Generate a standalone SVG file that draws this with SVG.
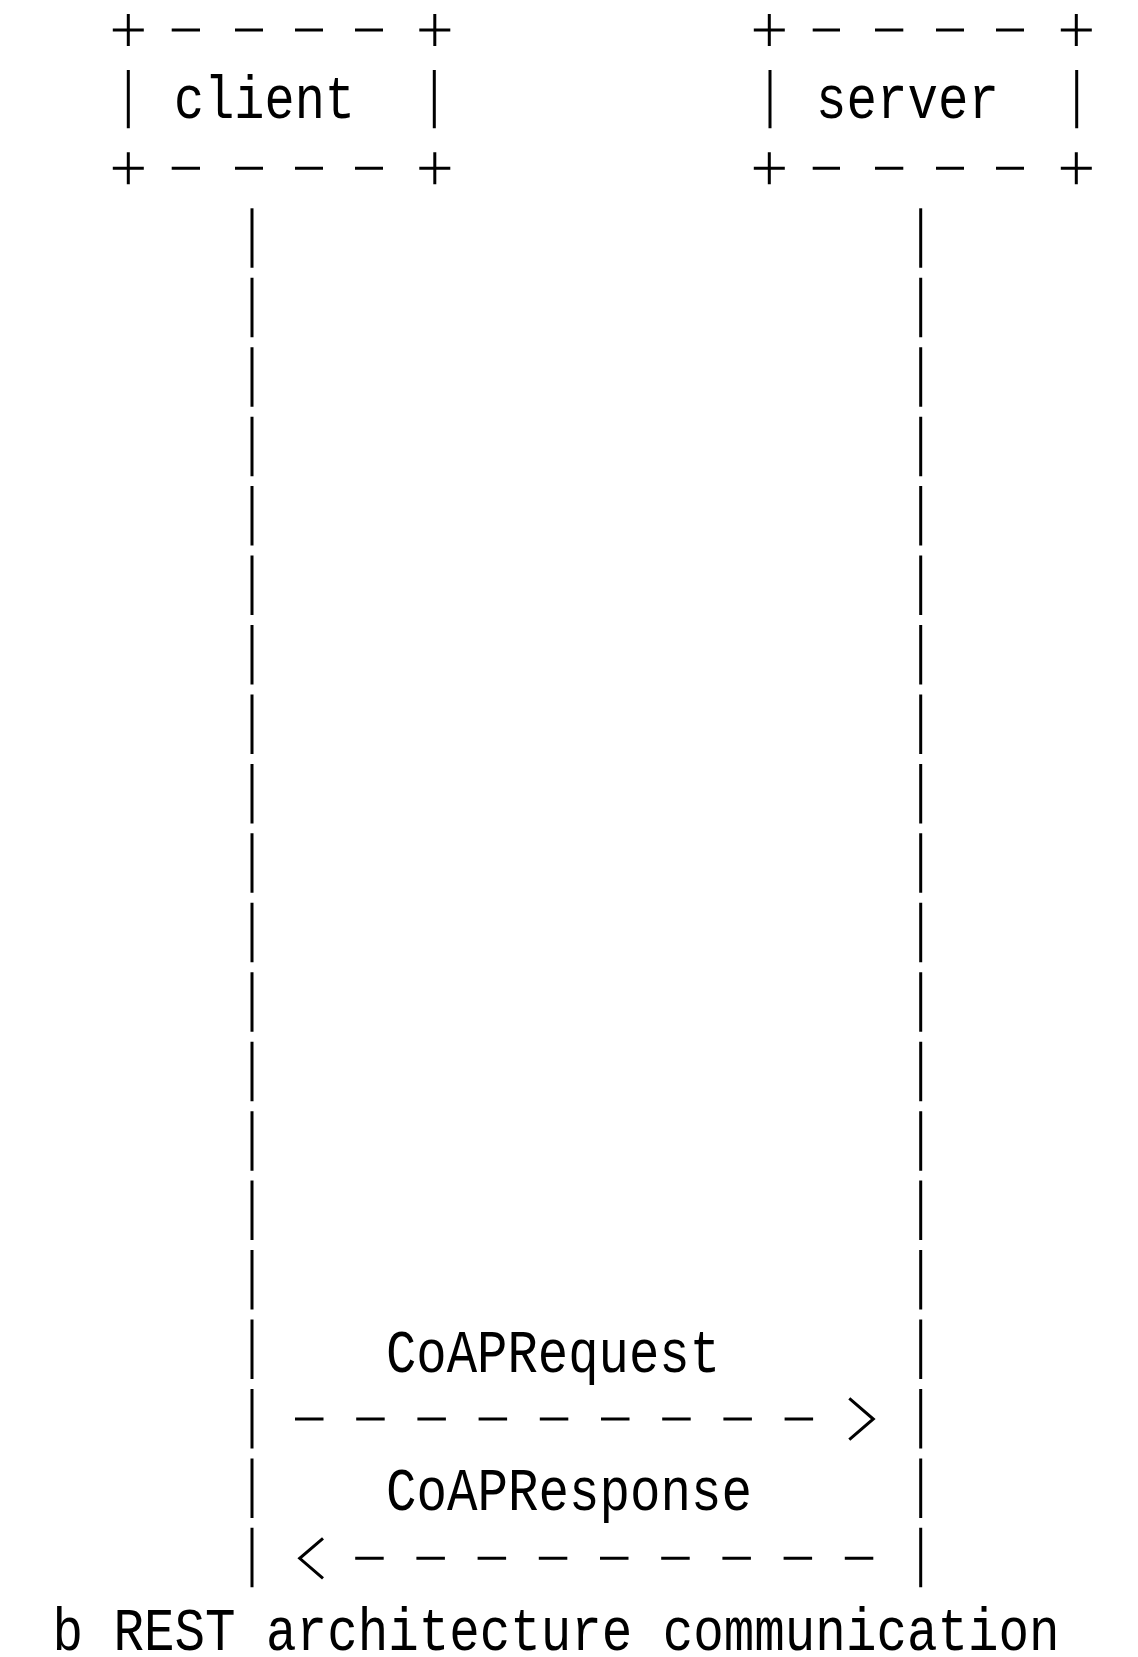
<svg xmlns="http://www.w3.org/2000/svg" width="1138" height="1657" viewBox="0 0 1138 1657">
<style>
.ln{stroke:#000;stroke-width:3;fill:none;stroke-linecap:butt}
.life{stroke:#000;stroke-width:3;fill:none;stroke-dasharray:59.5 9.95}
.msg{stroke:#000;stroke-width:3;fill:none;stroke-dasharray:28.5 32.7}
.txt{font-family:"Liberation Mono","DejaVu Sans Mono",monospace;font-size:62px;fill:#000}
</style>
<defs>
<path id="plus" class="ln" d="M-15.5 0H15.5M0 -16V16"/>
<marker id="headR" markerUnits="userSpaceOnUse" orient="auto" refX="0" refY="0" viewBox="-5 -26 75 52" markerWidth="75" markerHeight="52" overflow="visible">
<path d="M36 -20.7L60 0L36 20.7" fill="none" stroke="#000" stroke-width="3"/>
</marker>
<marker id="headL" markerUnits="userSpaceOnUse" orient="auto" refX="0" refY="0" viewBox="-5 -26 75 52" markerWidth="75" markerHeight="52" overflow="visible">
<path d="M32 -20L55.3 0L32 20" fill="none" stroke="#000" stroke-width="3"/>
</marker>
</defs>
<rect width="1138" height="1657" fill="#fff"/>
<g id="client">
<use href="#plus" x="128.3" y="30"/>
<use href="#plus" x="434.8" y="30"/>
<use href="#plus" x="128.3" y="168.3"/>
<use href="#plus" x="434.8" y="168.3"/>
<path class="ln" d="M171.7 30H200M235 30H263M295 30H323M355 30H383M171.7 168.3H200M235 168.3H263M295 168.3H323M355 168.3H383M128.3 70V128.3M434.3 70V128.3"/>
<text class="txt" x="174" y="118.3" textLength="181" lengthAdjust="spacingAndGlyphs">client</text>
<path class="life" d="M252 208.3V1588"/>
</g>
<g id="server">
<use href="#plus" x="769.3" y="30"/>
<use href="#plus" x="1076.3" y="30"/>
<use href="#plus" x="769.3" y="168.3"/>
<use href="#plus" x="1076.3" y="168.3"/>
<path class="ln" d="M812.7 30H840M875 30H903.3M936 30H964M996 30H1024M812.7 168.3H840M875 168.3H903.3M936 168.3H964M996 168.3H1024M770 70V128.3M1076.7 70V128.3"/>
<text class="txt" x="816" y="118.3" textLength="183" lengthAdjust="spacingAndGlyphs">server</text>
<path class="life" d="M920.7 208.3V1588"/>
</g>
<g id="connectors">
<path class="msg" d="M295 1419H813.3" marker-end="url(#headR)"/>
<text class="txt" x="386" y="1371.7" textLength="334" lengthAdjust="spacingAndGlyphs">CoAPRequest</text>
<path class="msg" d="M873.3 1558.3H355" marker-end="url(#headL)"/>
<text class="txt" x="386" y="1510" textLength="366" lengthAdjust="spacingAndGlyphs">CoAPResponse</text>
</g>
<g id="caption">
<text class="txt" x="52.5" y="1650" textLength="1007" lengthAdjust="spacingAndGlyphs">b REST architecture communication</text>
</g>
</svg>
